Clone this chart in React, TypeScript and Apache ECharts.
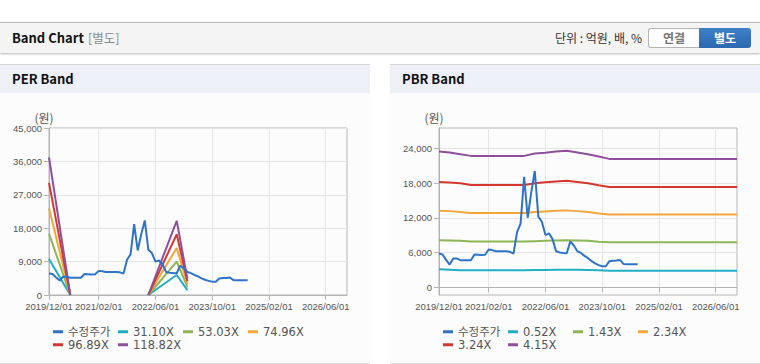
import React, { useEffect, useRef } from 'react';
import * as echarts from 'echarts';

// ---- categories: months 2019/12 .. 2026/12 ----
const months: string[] = [];
for (let i = 0; i <= 84; i++) {
  const y = 2019 + Math.floor((11 + i) / 12);
  const m = ((11 + i) % 12) + 1;
  months.push(`${y}/${String(m).padStart(2, '0')}/01`);
}
const labelIdx = [0, 14, 30, 46, 62, 78];

const priceName = '수정주가';
// monthly adjusted price 2019/12 .. 2024/08
const price = [
  5800, 5650, 4700, 3900, 4950, 4950, 4650, 4650, 4650, 4650,
  5650, 5600, 5550, 5600, 6500, 6400, 6200, 6200, 6200, 6200,
  6100, 5800, 9500, 11000, 19100, 12000, 16400, 20100, 12200, 11300,
  9000, 9300, 8300, 6200, 6000, 5900, 5850, 7900, 7200, 6200,
  5900, 5400, 5000, 4500, 4100, 3800, 3600, 3600, 4450, 4550,
  4600, 4700, 4000, 3950, 3950, 3950, 3950,
];

// ---- PER band ----
const perNames = ['31.10X', '53.03X', '74.96X', '96.89X', '118.82X'];
const perSeg1Months = ['2019/12/01', '2020/06/01'];
const perSeg2Months = ['2022/04/01', '2022/12/01', '2023/03/01'];
const perGapMonth = '2021/06/01';
const per31Seg1 = [9700, 0];
const per53Seg1 = [16550, 0];
const per75Seg1 = [23400, 0];
const per97Seg1 = [30200, 0];
const per119Seg1 = [37100, 0];
const per31Seg2 = [0, 5400, 1300];
const per53Seg2 = [0, 8980, 2200];
const per75Seg2 = [0, 12650, 3000];
const per97Seg2 = [0, 16350, 3700];
const per119Seg2 = [0, 20000, 4400];

// ---- PBR band ----
const pbrNames = ['0.52X', '1.43X', '2.34X', '3.24X', '4.15X'];
const pbrKeyMonths = [
  '2019/12/01', '2020/03/01', '2020/06/01', '2020/09/01', '2021/12/01', '2022/03/01', '2022/06/01',
  '2022/09/01', '2022/12/01', '2023/03/01', '2023/06/01', '2023/09/01', '2023/12/01', '2026/12/01',
];
const pbr052 = [3070, 2990, 2900, 2900, 2900, 2930, 2960, 2990, 3010, 2990, 2960, 2900, 2840, 2840];
const pbr143 = [8120, 8060, 8000, 7880, 7880, 7940, 8000, 8060, 8120, 8060, 8000, 7850, 7770, 7770];
const pbr234 = [13220, 13150, 12990, 12810, 12810, 12990, 13100, 13200, 13280, 13150, 12990, 12750, 12580, 12580];
const pbr324 = [18200, 18100, 17970, 17680, 17680, 17970, 18140, 18300, 18430, 18200, 17970, 17620, 17330, 17330];
const pbr415 = [23480, 23300, 23010, 22720, 22720, 23130, 23250, 23480, 23590, 23300, 23010, 22610, 22200, 22200];

const perTicks = [0, 9000, 18000, 27000, 36000, 45000];
const pbrTicks = [0, 6000, 12000, 18000, 24000];

const priceColor = '#2f73c8';
const bandColors = ['#1fafc3', '#8db656', '#f2a63b', '#d3372d', '#8f4f9c'];

const pairs = (ms: string[], vs: number[]) => ms.map((m, i) => [m, vs[i]]);
const perData = (s1: number[], s2: number[]) => [
  ...pairs(perSeg1Months, s1),
  [perGapMonth, null],
  ...pairs(perSeg2Months, s2),
];

const fmt = (v: number) => v.toLocaleString('en-US');
const isLabel = (i: number) => labelIdx.indexOf(i) >= 0;
const axisFont = 'Liberation Sans, Arial, sans-serif';

function baseOption(names: string[], bands: any[][], yAxis: any) {
  const series: any[] = [
    {
      name: priceName, type: 'line', data: price, showSymbol: false, symbol: 'none',
      lineStyle: { width: 2, color: priceColor }, itemStyle: { color: priceColor }, z: 3,
    },
    ...bands.map((d, i) => ({
      name: names[i], type: 'line', data: d, showSymbol: false, symbol: 'none', connectNulls: false,
      lineStyle: { width: 2, color: bandColors[i] }, itemStyle: { color: bandColors[i] }, z: 2,
    })),
  ];
  const allNames = [priceName, ...names];
  const legends = allNames.map((n, i) => ({
    left: 53 + (i % 4) * 65,
    top: i < 4 ? 233 : 246,
    padding: 0, itemGap: 0, itemWidth: 10, itemHeight: 3, icon: 'rect',
    textStyle: { fontSize: 11.5, color: '#555', fontFamily: 'DejaVu Sans, Noto Sans CJK KR, sans-serif' },
    data: [n],
  }));
  return {
    animation: false,
    grid: { left: 49, top: 35, width: 298, height: 167, show: true, borderColor: '#b4b4b4', borderWidth: 1 },
    legend: legends,
    xAxis: {
      type: 'category', data: months, boundaryGap: false,
      axisLine: { show: true, lineStyle: { color: '#b4b4b4' } },
      axisTick: { show: true, length: 5, interval: (i: number) => isLabel(i), lineStyle: { color: '#b4b4b4' } },
      axisLabel: { interval: (i: number) => isLabel(i), fontSize: 9.5, color: '#555', fontFamily: axisFont, margin: 6 },
      splitLine: { show: true, interval: (i: number) => isLabel(i), lineStyle: { color: '#e6e6e6' } },
    },
    yAxis,
    series,
  };
}

const yCommon = {
  type: 'value',
  name: '(원)',
  nameLocation: 'end',
  nameGap: 5,
  nameTextStyle: { fontSize: 12, color: '#555', fontFamily: 'Noto Sans CJK KR, sans-serif', padding: [0, 10, 0, 0] },
  axisLine: { show: true, lineStyle: { color: '#b4b4b4' } },
  axisTick: { show: true, length: 5, lineStyle: { color: '#b4b4b4' } },
  axisLabel: { fontSize: 9.5, color: '#555', fontFamily: axisFont, margin: 7, formatter: (v: number) => fmt(v) },
  splitLine: { show: true, lineStyle: { color: '#e6e6e6' } },
};

const perOption = baseOption(perNames, [
  perData(per31Seg1, per31Seg2),
  perData(per53Seg1, per53Seg2),
  perData(per75Seg1, per75Seg2),
  perData(per97Seg1, per97Seg2),
  perData(per119Seg1, per119Seg2),
], { ...yCommon, min: perTicks[0], max: perTicks[perTicks.length - 1], interval: 9000 });

const pbrOption = baseOption(pbrNames, [
  pairs(pbrKeyMonths, pbr052),
  pairs(pbrKeyMonths, pbr143),
  pairs(pbrKeyMonths, pbr234),
  pairs(pbrKeyMonths, pbr324),
  pairs(pbrKeyMonths, pbr415),
], {
  ...yCommon, min: -1380, max: 27550,
  axisTick: { ...yCommon.axisTick, customValues: pbrTicks },
  axisLabel: { ...yCommon.axisLabel, customValues: pbrTicks },
});

function Chart({ option }: { option: any }) {
  const ref = useRef<HTMLDivElement>(null);
  useEffect(() => {
    const c = echarts.init(ref.current!, undefined, { renderer: 'svg' });
    c.setOption(option);
    return () => c.dispose();
  }, [option]);
  return <div ref={ref} style={{ width: 370, height: 268 }} />;
}

function Panel({ left, title, option }: { left: number; title: string; option: any }) {
  return (
    <div style={{ position: 'absolute', left, top: 64, width: 370, height: 298, background: '#fcfcfc', borderTop: '1px solid #d4d4d4', borderBottom: '1px solid #dcdcdc' }}>
      <div style={{ height: 28, background: '#edf1f7', position: 'relative' }}>
        <span style={{ position: 'absolute', left: 12, top: 5, fontSize: 13, fontWeight: 700, color: '#111', fontFamily: 'Noto Sans CJK KR, sans-serif', lineHeight: '18px' }}>{title}</span>
      </div>
      <Chart option={option} />
    </div>
  );
}

export default function App() {
  const font = 'Noto Sans CJK KR, sans-serif';
  return (
    <div style={{ position: 'absolute', left: 0, top: 0, width: 760, height: 364, background: '#fff', overflow: 'hidden', fontFamily: font }}>
      <div style={{ position: 'absolute', left: 0, top: 22, width: 760, height: 30, background: '#f4f4f4', borderTop: '1px solid #b9b9b9', boxShadow: '0 1px 2px rgba(0,0,0,0.28)' }}>
        <span style={{ position: 'absolute', left: 12, top: 6, fontSize: 13, fontWeight: 700, color: '#111', lineHeight: '18px' }}>Band Chart</span>
        <span style={{ position: 'absolute', left: 88, top: 6, fontSize: 12.5, color: '#8a8a8a', lineHeight: '18px' }}>[별도]</span>
        <span style={{ position: 'absolute', right: 118, top: 6, fontSize: 12, color: '#333', lineHeight: '18px' }}>단위 : 억원, 배, %</span>
        <div style={{ position: 'absolute', left: 648, top: 5, width: 50, height: 18, border: '1px solid #b5b5b5', borderRight: 'none', borderRadius: '3px 0 0 3px', background: '#fff', color: '#777', fontSize: 12, fontWeight: 700, textAlign: 'center', lineHeight: '18px' }}>연결</div>
        <div style={{ position: 'absolute', left: 699, top: 5, width: 52, height: 20, borderRadius: '0 3px 3px 0', background: 'linear-gradient(#3f80c8, #2b68b0)', color: '#fff', fontSize: 12, fontWeight: 700, textAlign: 'center', lineHeight: '20px' }}>별도</div>
      </div>
      <Panel left={0} title="PER Band" option={perOption} />
      <Panel left={390} title="PBR Band" option={pbrOption} />
    </div>
  );
}
